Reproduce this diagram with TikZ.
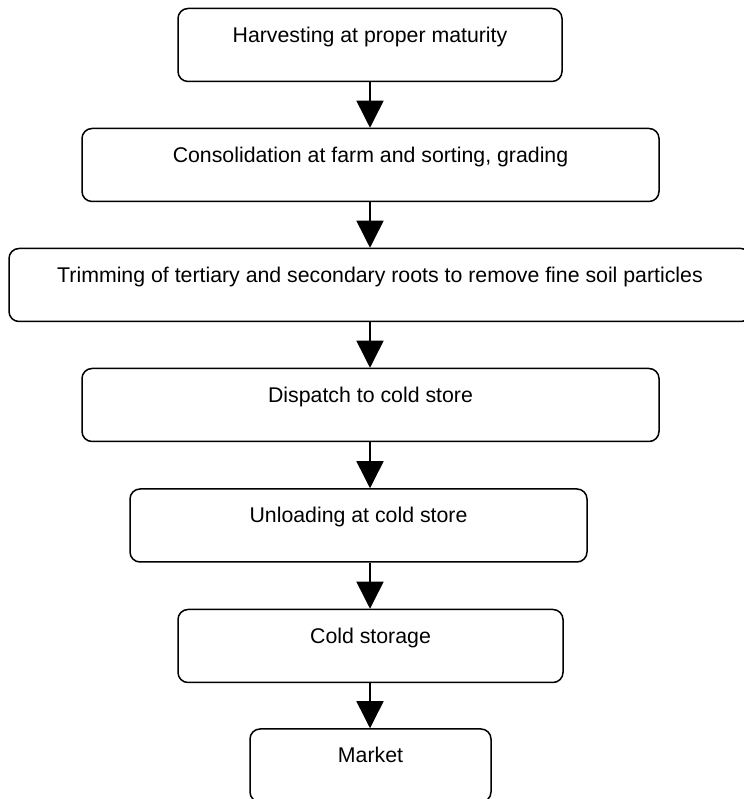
\documentclass[tikz,border=0pt]{standalone}
\usepackage{fontspec}
\setmainfont{Liberation Sans}
\usetikzlibrary{arrows.meta}
\tikzset{
  stepbox/.style={draw, line width=1.5pt, rounded corners=10pt, inner sep=0pt,
    text height=34pt, text depth=39pt, align=center,
    font=\fontsize{21.3pt}{25pt}\selectfont},
  flowarrow/.style={line width=1.5pt, -{Triangle[width=27pt,length=27pt]}}
}
\begin{document}
\begin{tikzpicture}[x=1pt,y=1pt]
\useasboundingbox (0,0) rectangle (743,799);
\node[stepbox, minimum width=384pt] (b1) at (370,754) {Harvesting at proper maturity};
\node[stepbox, minimum width=577pt] (b2) at (370.5,634) {Consolidation at farm and sorting, grading};
\node[stepbox, minimum width=742pt] (b3) at (380,514) {Trimming of tertiary and secondary roots to remove fine soil particles};
\node[stepbox, minimum width=577pt] (b4) at (370.5,394) {Dispatch to cold store};
\node[stepbox, minimum width=457pt] (b5) at (358.5,273.5) {Unloading at cold store};
\node[stepbox, minimum width=385pt] (b6) at (370.5,153) {Cold storage};
\node[stepbox, minimum width=241pt] (b7) at (370.5,33.5) {Market};
\coordinate (ax) at (370,0);
\draw[flowarrow] (ax |- b1.south) -- (ax |- b2.north);
\draw[flowarrow] (ax |- b2.south) -- (ax |- b3.north);
\draw[flowarrow] (ax |- b3.south) -- (ax |- b4.north);
\draw[flowarrow] (ax |- b4.south) -- (ax |- b5.north);
\draw[flowarrow] (ax |- b5.south) -- (ax |- b6.north);
\draw[flowarrow] (ax |- b6.south) -- (ax |- b7.north);
\end{tikzpicture}
\end{document}
